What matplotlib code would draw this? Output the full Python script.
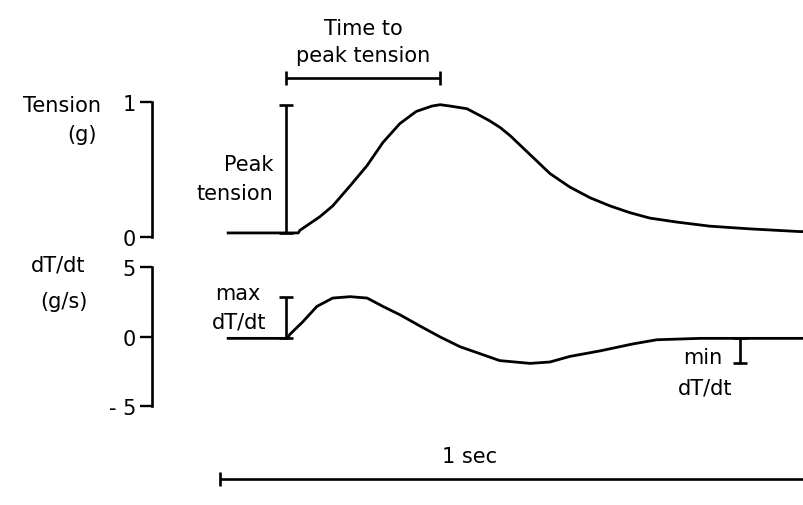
import numpy as np
import matplotlib
matplotlib.use("Agg")
from matplotlib import pyplot as plt

# twitch recording (time in s, tension in g, dT/dt in g/s)
tension_t = [0.014, 0.134, 0.137, 0.171, 0.193, 0.223, 0.252, 0.279, 0.308, 0.336,
             0.363, 0.377, 0.394, 0.423, 0.445, 0.462, 0.480, 0.497, 0.514, 0.531,
             0.548, 0.565, 0.582, 0.599, 0.634, 0.668, 0.702, 0.736, 0.783, 0.839,
             0.908, 0.993, 1.0]
tension_g = [0.03, 0.03, 0.05, 0.15, 0.23, 0.38, 0.53, 0.70, 0.84, 0.93,
             0.97, 0.98, 0.97, 0.95, 0.90, 0.86, 0.81, 0.75, 0.68, 0.61,
             0.54, 0.47, 0.42, 0.37, 0.29, 0.23, 0.18, 0.14, 0.11, 0.08,
             0.06, 0.04, 0.04]

dtdt_t = [0.014, 0.115, 0.120, 0.142, 0.166, 0.193, 0.223, 0.252, 0.279, 0.308,
          0.342, 0.377, 0.411, 0.445, 0.479, 0.531, 0.565, 0.599, 0.651, 0.707,
          0.748, 0.822, 1.0]
dtdt = [-0.1, -0.1, 0.2, 1.1, 2.2, 2.8, 2.9, 2.8, 2.2, 1.6,
        0.8, 0.0, -0.7, -1.2, -1.7, -1.9, -1.8, -1.4, -1.0, -0.5,
        -0.2, -0.1, -0.1]

stim_t = 0.113          # stimulus onset
min_mark_t = 0.89       # where the min dT/dt bar is drawn
scale_bar = 1.0         # 1 sec

tension_ticks = [0, 1]
tension_labels = ["0", "1"]
dtdt_ticks = [-5, 0, 5]
dtdt_labels = ["- 5", "0", "5"]

plt.rcParams["font.family"] = "DejaVu Sans"
plt.rcParams["font.size"] = 15

W, H = 804, 506
fig = plt.figure(figsize=(W / 100, H / 100), dpi=100)
ax1 = fig.add_axes([152 / W, 1 - 250 / H, 1 - 152 / W, 250 / H])
ax2 = fig.add_axes([152 / W, 0, 1 - 152 / W, 256 / H])

lw = 2.0
for ax in (ax1, ax2):
    ax.set_xlim(-0.1164, 1.0)
    for s in ("top", "right", "bottom"):
        ax.spines[s].set_visible(False)
    ax.spines["left"].set_linewidth(1.9)
    ax.set_xticks([])
    ax.tick_params(axis="y", length=8.5, width=1.7, pad=3, labelsize=15)
    ax.patch.set_alpha(0)

# tension panel
ax1.set_ylim(-0.089, 1.763)
ax1.spines["left"].set_bounds(0, 1)
ax1.set_yticks(tension_ticks)
ax1.set_yticklabels(tension_labels)
ax1.plot(tension_t, tension_g, color="black", lw=lw, solid_joinstyle="round")

i_pk = int(np.argmax(tension_g))
ebar = dict(fmt="none", ecolor="black", elinewidth=1.9, capsize=4.7, capthick=1.9, clip_on=False)
ax1.errorbar([stim_t], [tension_g[0]], yerr=[[0], [tension_g[i_pk] - tension_g[0]]], **ebar)
ax1.errorbar([stim_t], [1.178], xerr=[[0], [tension_t[i_pk] - stim_t]], **ebar)

ax1.text(0.245, 1.504, "Time to", ha="center", va="baseline")
ax1.text(0.245, 1.304, "peak tension", ha="center", va="baseline")
ax1.text(-0.204, 0.978, "Tension", ha="right", va="center")
ax1.text(-0.211, 0.763, "(g)", ha="right", va="center")
ax1.text(0.091, 0.541, "Peak", ha="right", va="center")
ax1.text(0.091, 0.326, "tension", ha="right", va="center")

# dT/dt panel
ax2.set_ylim(-12.09, 6.33)
ax2.spines["left"].set_bounds(-5, 5)
ax2.set_yticks(dtdt_ticks)
ax2.set_yticklabels(dtdt_labels)
ax2.plot(dtdt_t, dtdt, color="black", lw=lw, solid_joinstyle="round")

ax2.errorbar([stim_t], [dtdt[0]], yerr=[[0], [max(dtdt) - dtdt[0]]], **ebar)
ax2.errorbar([min_mark_t], [dtdt[0]], yerr=[[dtdt[0] - min(dtdt)], [0]], **ebar)
ax2.errorbar([0], [-10.2], xerr=[[0], [scale_bar]], **ebar)

ax2.text(-0.277, 5.18, "dT/dt", ha="center", va="center")
ax2.text(-0.267, 2.59, "(g/s)", ha="center", va="center")
ax2.text(0.031, 3.17, "max", ha="center", va="center")
ax2.text(0.033, 1.08, "dT/dt", ha="center", va="center")
ax2.text(0.827, -1.44, "min", ha="center", va="center")
ax2.text(0.830, -3.67, "dT/dt", ha="center", va="center")
ax2.text(0.428, -8.56, "1 sec", ha="center", va="center")

fig.savefig("out.png", dpi=100, facecolor="white")
